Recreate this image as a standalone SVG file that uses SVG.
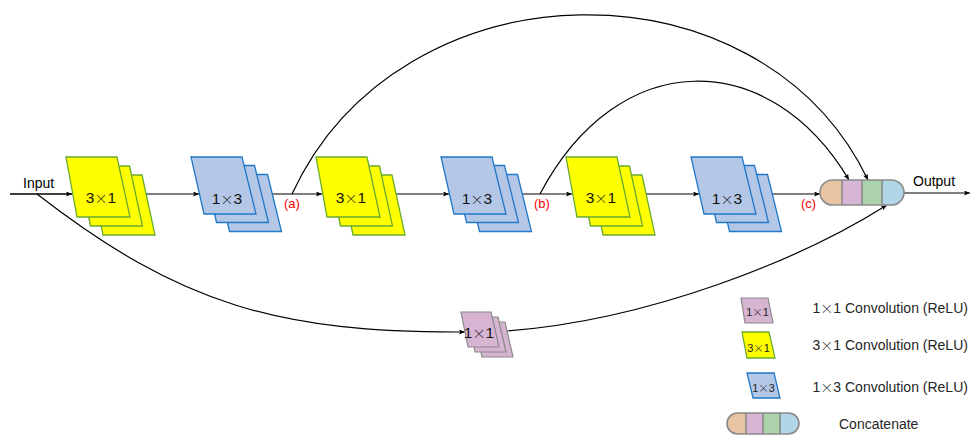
<svg xmlns="http://www.w3.org/2000/svg" width="971" height="435" viewBox="0 0 971 435">
  <style>
    .lbl { font-family: "Liberation Sans", Arial, sans-serif; }
    .x { font-family: "Noto Sans CJK SC", "Liberation Sans", sans-serif; font-weight: 300; }
    .blk { font-size: 15.5px; text-anchor: middle; fill: #111; }
    .blk .x { font-size: 13px; }
    .tag { font-size: 13px; fill: #ff0000; }
    .io { font-size: 14px; fill: #000; }
    .leg { font-size: 14px; fill: #262626; }
    .leg .x { font-size: 13px; }
    .legs { font-size: 11px; text-anchor: middle; fill: #222; }
    .legs .x { font-size: 10.5px; }
    .yel { fill: #ffff00; stroke: #6aab2e; stroke-width: 1.3; stroke-linejoin: miter; }
    .blu { fill: #b4c7e7; stroke: #1f78c8; stroke-width: 1.3; }
    .pnk { fill: #d6b4d2; stroke: #8a8a8a; stroke-width: 1.2; }
    .wire { fill: none; stroke: #000; stroke-width: 1.2; }
    .cat-edge { fill: none; stroke: #8a8a8a; stroke-width: 1.6; }
  </style>
  <defs>
    <marker id="arr" markerUnits="userSpaceOnUse" markerWidth="8" markerHeight="7" refX="6" refY="2.5" orient="auto">
      <path d="M0,0 L6,2.5 L0,5 L1.3,2.5 z" fill="#000"/>
    </marker>
    <!-- stacked 3x1 kernels, front layer at origin -->
    <g id="stackY">
      <polygon class="yel" points="25,18 76,18 89,78 37,78"/>
      <polygon class="yel" points="12.5,9 63.5,9 76.5,69 24.5,69"/>
      <polygon class="yel" points="0,0 51,0 64,60 11,60"/>
    </g>
    <!-- stacked 1x3 kernels -->
    <g id="stackB">
      <polygon class="blu" points="25.5,17.5 76.5,17.5 90.5,74.5 38.5,74.5"/>
      <polygon class="blu" points="12.5,8.5 63.5,8.5 77.5,65.5 25.5,65.5"/>
      <polygon class="blu" points="0,0 51,0 65,57 13,57"/>
    </g>
    <!-- stacked 1x1 kernels -->
    <g id="stackP">
      <polygon class="pnk" points="14,10 44,10 52,45 21,45"/>
      <polygon class="pnk" points="7,5 37,5 45,40 14,40"/>
      <polygon class="pnk" points="0,0 30,0 38,35 7,35"/>
    </g>
    <clipPath id="catClip">
      <rect x="820" y="180" width="84" height="25" rx="12.5"/>
    </clipPath>
    <clipPath id="catClipL">
      <rect x="727" y="413" width="72" height="21" rx="10.5"/>
    </clipPath>
  </defs>

  <!-- connectors -->
  <g id="connectors">
    <line x1="10" y1="194" x2="72" y2="194" stroke="#404040" stroke-width="2" marker-end="url(#arr)"/>
    <line class="wire" x1="146" y1="194" x2="199" y2="194" marker-end="url(#arr)"/>
    <line class="wire" x1="272" y1="194" x2="322" y2="194" marker-end="url(#arr)"/>
    <line class="wire" x1="396" y1="194" x2="449" y2="194" marker-end="url(#arr)"/>
    <line class="wire" x1="522" y1="194" x2="572" y2="194" marker-end="url(#arr)"/>
    <line class="wire" x1="646" y1="194" x2="699" y2="194" marker-end="url(#arr)"/>
    <line class="wire" x1="772" y1="194" x2="820" y2="194" marker-end="url(#arr)"/>
    <line class="wire" x1="904" y1="193" x2="970" y2="193" marker-end="url(#arr)"/>
    <!-- skip from (a) -->
    <path class="wire" d="M292,194 C400,-40 760,-45 868,180" marker-end="url(#arr)"/>
    <!-- skip from (b) -->
    <path class="wire" d="M540,194 C618,46 769,46 849,180" marker-end="url(#arr)"/>
    <!-- input to 1x1 branch -->
    <path class="wire" d="M37,194 C180,305 280,333 465,332" marker-end="url(#arr)"/>
    <!-- 1x1 branch to concat -->
    <path class="wire" d="M507,331 C650,320 800,260 887,205" marker-end="url(#arr)"/>
  </g>

  <g id="conv3x1_a"><use href="#stackY" x="66" y="157"/><text class="lbl blk" x="101" y="203">3<tspan class="x">×</tspan>1</text></g>
  <g id="conv1x3_a"><use href="#stackB" x="191" y="157"/><text class="lbl blk" x="227" y="204">1<tspan class="x">×</tspan>3</text></g>
  <g id="conv3x1_b"><use href="#stackY" x="316" y="157"/><text class="lbl blk" x="351" y="203">3<tspan class="x">×</tspan>1</text></g>
  <g id="conv1x3_b"><use href="#stackB" x="441" y="157"/><text class="lbl blk" x="477" y="204">1<tspan class="x">×</tspan>3</text></g>
  <g id="conv3x1_c"><use href="#stackY" x="566" y="157"/><text class="lbl blk" x="601" y="203">3<tspan class="x">×</tspan>1</text></g>
  <g id="conv1x3_c"><use href="#stackB" x="691" y="157"/><text class="lbl blk" x="727" y="204">1<tspan class="x">×</tspan>3</text></g>
  <g id="conv1x1"><use href="#stackP" x="461" y="312"/><text class="lbl blk" x="479" y="337.5">1<tspan class="x">×</tspan>1</text></g>

  <g id="concat">
    <g clip-path="url(#catClip)">
      <rect x="820" y="180" width="22" height="25" fill="#e9c4a2"/>
      <rect x="842" y="180" width="20" height="25" fill="#d6b6d4"/>
      <rect x="862" y="180" width="20" height="25" fill="#acd3ac"/>
      <rect x="882" y="180" width="22" height="25" fill="#b1d6e8"/>
    </g>
    <path class="cat-edge" d="M842,180 V205 M862,180 V205 M882,180 V205"/>
    <rect class="cat-edge" x="820" y="180" width="84" height="25" rx="12.5"/>
  </g>

  <g id="labels">
    <text class="lbl io" x="23" y="188">Input</text>
    <text class="lbl io" x="913" y="186">Output</text>
    <text class="lbl tag" x="284" y="207.5">(a)</text>
    <text class="lbl tag" x="534" y="207.5">(b)</text>
    <text class="lbl tag" x="801" y="207.5">(c)</text>
  </g>

  <g id="legend">
    <polygon class="pnk" points="741,298 768,298 773,323 745,323"/>
    <text class="lbl legs" x="757.5" y="316">1<tspan class="x">×</tspan>1</text>
    <polygon class="yel" points="742,332 769,332 775,358 747,358"/>
    <text class="lbl legs" x="758.5" y="351.5">3<tspan class="x">×</tspan>1</text>
    <polygon class="blu" points="747,373 774,373 780,398 753,398"/>
    <text class="lbl legs" x="763.5" y="391.5">1<tspan class="x">×</tspan>3</text>
    <g clip-path="url(#catClipL)">
      <rect x="727" y="413" width="19" height="21" fill="#e9c4a2"/>
      <rect x="746" y="413" width="17" height="21" fill="#d6b6d4"/>
      <rect x="763" y="413" width="17" height="21" fill="#acd3ac"/>
      <rect x="780" y="413" width="19" height="21" fill="#b1d6e8"/>
    </g>
    <path class="cat-edge" d="M746,413 V434 M763,413 V434 M780,413 V434"/>
    <rect class="cat-edge" x="727" y="413" width="72" height="21" rx="10.5"/>
    <text class="lbl leg" x="812.5" y="313">1<tspan class="x">×</tspan>1 Convolution (ReLU)</text>
    <text class="lbl leg" x="812.5" y="350">3<tspan class="x">×</tspan>1 Convolution (ReLU)</text>
    <text class="lbl leg" x="812.5" y="392">1<tspan class="x">×</tspan>3 Convolution (ReLU)</text>
    <text class="lbl leg" x="839" y="429">Concatenate</text>
  </g>
</svg>
